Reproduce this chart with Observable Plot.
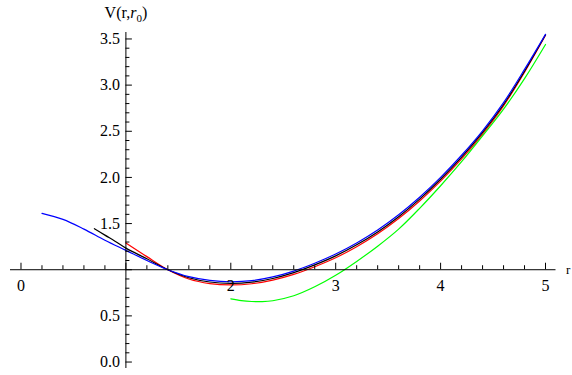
<!DOCTYPE html>
<html><head><meta charset="utf-8">
<script src="https://cdn.jsdelivr.net/npm/d3@7"></script>
<script src="https://cdn.jsdelivr.net/npm/@observablehq/plot@0.6"></script>
<style>
body{margin:0;background:#fff;}
svg{display:block}
svg text{font-family:"Liberation Serif","DejaVu Serif",serif !important;}
</style>
</head><body><div id="chart"></div>
<script>
// Series data (r values and V(r, r0) values)
const blueR  = [0.2,0.4,0.6,0.8,1.0,1.2,1.4,1.6,1.8,2.0,2.2,2.4,2.6,2.8,3.0,3.2,3.4,3.6,3.8,4.0,4.2,4.4,4.6,4.8,5.0];
const blueV  = [1.61,1.545,1.44,1.32,1.21,1.10,1.0,0.925,0.885,0.87,0.882,0.922,0.985,1.07,1.17,1.29,1.43,1.595,1.785,2.0,2.24,2.505,2.81,3.17,3.55];
const blackR = [0.7,0.8,0.9,1.0,1.2,1.4,1.6,1.8,2.0,2.2,2.4,2.6,2.8,3.0,3.2,3.4,3.6,3.8,4.0,4.2,4.4,4.6,4.8,5.0];
const blackV = [1.445,1.375,1.307,1.234,1.118,1.0,0.913,0.867,0.852,0.865,0.905,0.968,1.052,1.15,1.27,1.41,1.575,1.765,1.98,2.22,2.488,2.79,3.15,3.545];
const redR   = [1.0,1.2,1.4,1.6,1.8,2.0,2.2,2.4,2.6,2.8,3.0,3.2,3.4,3.6,3.8,4.0,4.2,4.4,4.6,4.8,5.0];
const redV   = [1.29,1.142,1.0,0.90,0.85,0.835,0.848,0.888,0.95,1.033,1.13,1.25,1.39,1.555,1.745,1.96,2.20,2.47,2.775,3.14,3.54];
const greenR = [2.0,2.1,2.2,2.3,2.4,2.6,2.8,3.0,3.2,3.4,3.6,3.8,4.0,4.2,4.4,4.6,4.8,5.0];
const greenV = [0.685,0.666,0.656,0.654,0.664,0.718,0.815,0.94,1.09,1.255,1.44,1.665,1.91,2.17,2.45,2.74,3.07,3.44];

// Axis ticks and labels
const xMajor = [0,1,2,3,4,5];
const xLabels = [0,2,3,4,5];
const xMinor = d3.range(0, 5.01, 0.2).filter(v => Math.abs(v - Math.round(v)) > 1e-6);
const yMajor = [0,0.5,1,1.5,2,2.5,3,3.5];
const yLabels = [0,0.5,1.5,2,2.5,3,3.5];
const yMinor = d3.range(0, 3.51, 0.1).filter(v => Math.abs(v*2 - Math.round(v*2)) > 1e-6);
const xOrigin = 1, yOrigin = 1;
const yTitle = "V(r,r0)";
const xTitle = "r";

const toPts = (R, V) => R.map((r, i) => ({r, v: V[i]}));
const series = [
  {pts: toPts(redR, redV), color: "#ff0000"},
  {pts: toPts(blackR, blackV), color: "#000000"},
  {pts: toPts(blueR, blueV), color: "#0000ff"},
  {pts: toPts(greenR, greenV), color: "#00ff00"}
];

const font = "Liberation Serif";
const chart = Plot.plot({
  width: 572,
  height: 375,
  marginLeft: 10,
  marginRight: 16.5,
  marginTop: 32,
  marginBottom: 7,
  x: {domain: [-0.1, 5.1], axis: null},
  y: {domain: [-0.07, 3.57], axis: null},
  style: {fontFamily: font, fontSize: "15px", background: "#fff", color: "#000"},
  marks: [
    ...series.map(s => Plot.line(s.pts, {x: "r", y: "v", stroke: s.color, strokeWidth: 1.2, curve: "catmull-rom"})),
    Plot.ruleY([yOrigin], {stroke: "#000", strokeWidth: 1}),
    Plot.ruleX([xOrigin], {stroke: "#000", strokeWidth: 1}),
    Plot.ruleX(xMajor, {x: d => d, y1: yOrigin, y2: yOrigin, insetTop: -6.5, stroke: "#000"}),
    Plot.ruleX(xMinor, {x: d => d, y1: yOrigin, y2: yOrigin, insetTop: -4, stroke: "#000"}),
    Plot.ruleY(yMajor, {y: d => d, x1: xOrigin, x2: xOrigin, insetRight: -6.5, stroke: "#000"}),
    Plot.ruleY(yMinor, {y: d => d, x1: xOrigin, x2: xOrigin, insetRight: -4, stroke: "#000"}),
    Plot.text(xLabels, {x: d => d, y: yOrigin, dy: 16, text: d => String(d), textAnchor: "middle", fill: "#000", fontSize: 16, fontFamily: font}),
    Plot.text(yLabels, {x: xOrigin, y: d => d, dx: -6, text: d => d3.format(".1f")(d), textAnchor: "end", fill: "#000", fontSize: 16, fontFamily: font}),
    Plot.text([yTitle], {x: xOrigin, y: 3.57, dy: -20, text: d => d, textAnchor: "middle", fill: "#000", fontSize: 16, fontFamily: font}),
    Plot.text([xTitle], {x: 5.1, y: yOrigin, dx: 10, dy: 0, text: d => d, textAnchor: "start", fill: "#000", fontSize: 13, fontFamily: font})
  ]
});
document.getElementById("chart").appendChild(chart);

// Render the y title with italic r and subscript 0
d3.select(chart).selectAll("text").each(function() {
  if (this.textContent === yTitle) {
    const t = d3.select(this);
    t.text("");
    t.append("tspan").text("V(r,");
    t.append("tspan").attr("font-style", "italic").text("r");
    t.append("tspan").attr("font-size", "11px").attr("dy", "4").text("0");
    t.append("tspan").attr("dy", "-4").text(")");
  }
});
</script>
</body></html>
